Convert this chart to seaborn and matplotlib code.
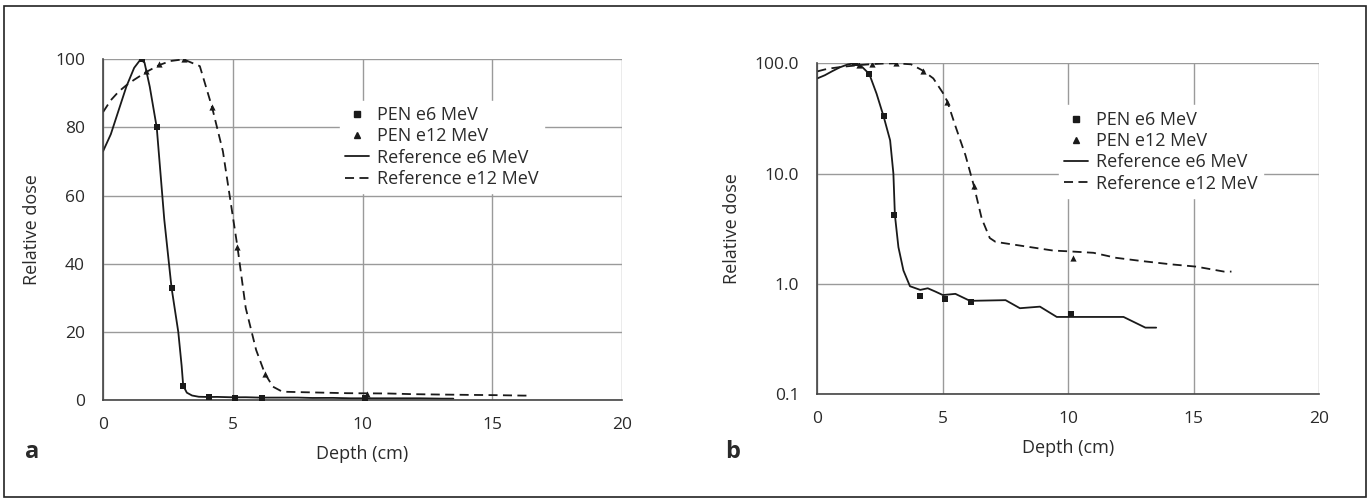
import numpy as np
import pandas as pd
import matplotlib
matplotlib.use("Agg")
import matplotlib.pyplot as plt
import seaborn as sns
from matplotlib.patches import Rectangle
from matplotlib.lines import Line2D

# ---- data ----
pen6_x = [1.5, 2.07, 2.64, 3.07, 4.09, 5.09, 6.11, 10.09]
pen6_y = [100, 80, 33, 4.2, 0.77, 0.72, 0.68, 0.53]

pen12_x = [1.67, 2.16, 3.13, 4.2, 5.18, 6.24, 10.17]
pen12_y = [96.5, 98.5, 100, 86, 45, 7.7, 1.7]

ref6_x = [0, 0.3, 0.6, 0.9, 1.2, 1.45, 1.6, 1.8, 2.07, 2.36, 2.64, 2.9, 3.03, 3.09,
          3.23, 3.43, 3.69, 4.1, 4.4, 4.7, 5.0, 5.5, 6.08, 7.5, 8.07, 8.87, 9.54,
          12.2, 13.07, 13.5]
ref6_y = [73, 78, 85, 92, 97.5, 100, 99, 92, 80, 53, 33, 20, 10, 4.2,
          2.15, 1.32, 0.95, 0.88, 0.91, 0.85, 0.79, 0.81, 0.70, 0.71, 0.60, 0.62, 0.50,
          0.50, 0.40, 0.40]

ref12_x = [0, 0.3, 0.6, 0.9, 1.2, 1.67, 2.16, 2.6, 3.1, 3.73, 4.2, 4.62, 5.0, 5.18,
           5.5, 5.9, 6.24, 6.55, 6.87, 7.1, 7.8, 9.4, 10.0, 11.0, 11.9, 12.9, 14.1,
           15.1, 16.2, 16.5]
ref12_y = [84.5, 88, 90.5, 92.4, 94, 96.3, 98.3, 99.5, 100, 98, 86, 73, 54, 45,
           27, 14.7, 7.7, 3.9, 2.6, 2.4, 2.27, 2.0, 1.97, 1.91, 1.72, 1.61, 1.50,
           1.43, 1.29, 1.29]

xticks = [0, 5, 10, 15, 20]
yticks_a = [0, 20, 40, 60, 80, 100]
yticks_b = [0.1, 1, 10, 100]
ytick_labels_b = ["0.1", "1.0", "10.0", "100.0"]
legend_labels = ["PEN e6 MeV", "PEN e12 MeV", "Reference e6 MeV", "Reference e12 MeV"]

sns.set_theme(style="white")
plt.rcParams["font.family"] = ["Open Sans", "DejaVu Sans"]

fig = plt.figure(figsize=(13.7, 5.01), dpi=100)
fig.patches.append(Rectangle((0.003, 0.008), 0.994, 0.98, transform=fig.transFigure,
                             fill=False, edgecolor="#222222", linewidth=1.2))

ax_a = fig.add_axes([0.0752, 0.2016, 0.3788, 0.680])
ax_b = fig.add_axes([0.5966, 0.2136, 0.3664, 0.660])

LC = "#1a1a1a"
GC = "#9a9a9a"
TC = "#2a2a2a"
ref6 = pd.DataFrame({"x": ref6_x, "y": ref6_y})
ref12 = pd.DataFrame({"x": ref12_x, "y": ref12_y})
p6 = pd.DataFrame({"x": pen6_x, "y": pen6_y})
p12 = pd.DataFrame({"x": pen12_x, "y": pen12_y})

for ax, log in [(ax_a, False), (ax_b, True)]:
    if log:
        ax.set_yscale("log")
    sns.lineplot(data=ref6, x="x", y="y", ax=ax, color=LC, lw=1.3, sort=False,
                 estimator=None)
    sns.lineplot(data=ref12, x="x", y="y", ax=ax, color=LC, lw=1.3, sort=False,
                 estimator=None, dashes=False, linestyle=(0, (5, 3)))
    sns.scatterplot(data=p6, x="x", y="y", ax=ax, marker="s", s=18, color=LC,
                    edgecolor=LC, linewidth=0, zorder=5)
    sns.scatterplot(data=p12, x="x", y="y", ax=ax, marker="^", s=20, color=LC,
                    edgecolor=LC, linewidth=0, zorder=5)
    ax.set_xlim(0, 20)
    ax.set_xticks(xticks)
    if log:
        ax.set_ylim(0.1, 100)
        ax.set_yticks(yticks_b)
        ax.set_yticklabels(ytick_labels_b)
        ax.yaxis.set_minor_locator(matplotlib.ticker.NullLocator())
    else:
        ax.set_ylim(0, 100)
        ax.set_yticks(yticks_a)
    ax.grid(True, color=GC, lw=1.0)
    ax.set_axisbelow(True)
    for s in ["top", "right"]:
        ax.spines[s].set_visible(False)
    for s in ["left", "bottom"]:
        ax.spines[s].set_color("#444444")
        ax.spines[s].set_linewidth(1.2)
    ax.tick_params(axis="both", which="major", direction="out", length=7, width=1,
                   color="#444444", labelsize=12.5, labelcolor=TC, pad=6)
    ax.tick_params(axis="x", length=7.5, pad=4.5)
    ax.set_xlabel("Depth (cm)", fontsize=13, color=TC, labelpad=9)
    ax.set_ylabel("Relative dose", fontsize=13, color=TC, labelpad=10)

    handles = [
        Line2D([], [], marker="s", color=LC, ls="none", markersize=4),
        Line2D([], [], marker="^", color=LC, ls="none", markersize=4),
        Line2D([], [], color=LC, lw=1.3),
        Line2D([], [], color=LC, lw=1.3, ls=(0, (5, 3))),
    ]
    leg = ax.legend(handles, legend_labels, loc="upper left",
                    bbox_to_anchor=(0.4385, 0.905) if not log else (0.463, 0.90),
                    frameon=True, fancybox=False, framealpha=1, edgecolor="white",
                    fontsize=13, handlelength=1.3, handletextpad=0.45,
                    labelspacing=0.18, borderpad=0.3)
    for t in leg.get_texts():
        t.set_color(TC)

fig.text(0.018, 0.086, "a", fontsize=17, fontweight="bold", color=TC)
fig.text(0.529, 0.086, "b", fontsize=17, fontweight="bold", color=TC)

fig.savefig("out.png", dpi=100)
